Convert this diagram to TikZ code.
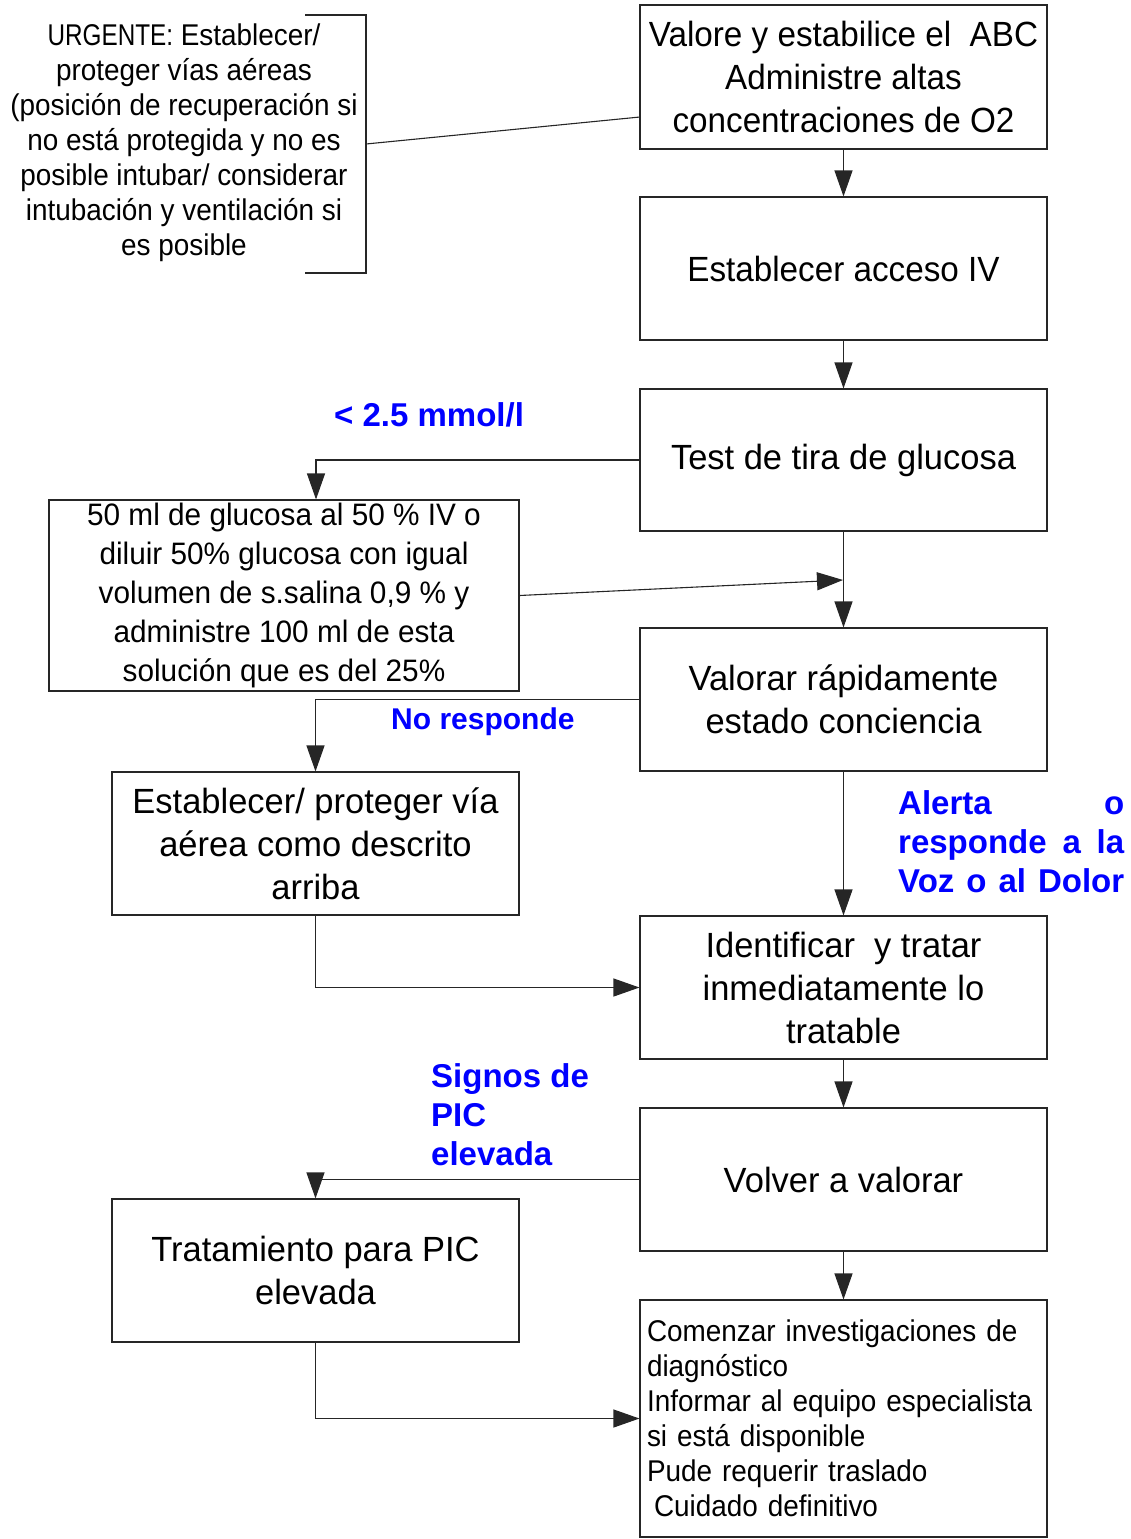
\documentclass[tikz,border=0pt]{standalone}
\usepackage{fontspec}
\usepackage{graphicx}
\setmainfont{Liberation Sans}
\newfontfamily\bodyf[FakeStretch=0.985]{Liberation Sans}
\newfontfamily\narrowf[FakeStretch=0.95]{Liberation Sans}
\newfontfamily\smallf[FakeStretch=0.93]{Liberation Sans}
\newfontfamily\glucf[FakeStretch=0.96]{Liberation Sans}
\usetikzlibrary{arrows.meta}

\begin{document}
\begin{tikzpicture}[x=1pt,y=-1pt,
  box/.style={draw=black!85,line width=1.1pt,rectangle,inner sep=0pt,
    minimum width=407pt,minimum height=143pt,align=center,
    font=\bodyf\fontsize{35}{43}\selectfont},
  narrowbox/.style={box,font=\narrowf\fontsize{35}{43}\selectfont},
  link/.style={draw=black!85,line width=1.1pt},
  arr/.style={link,-{Triangle[length=26pt,width=18pt]}},
  lab/.style={text=blue,font=\bfseries\fontsize{33}{39}\selectfont,
    inner sep=0pt,anchor=west,align=left}
]
\useasboundingbox (0,0) rectangle (1131,1539);

% main column
\node[narrowbox,minimum height=144pt] (abc) at (843.5,77)
  {Valore y estabilice el\ \ ABC\\Administre altas\\concentraciones de O2};
\node[narrowbox] (iv) at (843.5,268.5) {Establecer acceso IV};
\node[box,minimum height=142pt] (tira) at (843.5,460) {Test de tira de glucosa};
\node[box] (conc) at (843.5,699.5) {Valorar rápidamente\\estado conciencia};
\node[box] (trat) at (843.5,987.5)
  {Identificar\ \ y tratar\\inmediatamente lo\\tratable};
\node[box] (revalor) at (843.5,1179.5) {Volver a valorar};
\node[box,minimum height=237pt,text width=393pt,inner xsep=7pt,align=left,
  font=\smallf\fontsize{30}{35}\selectfont] (diag) at (843.5,1418.5)
  {Comenzar investigaciones de\\diagnóstico\\Informar al equipo especialista\\
   si está disponible\\Pude requerir traslado\\\hspace*{7pt}Cuidado definitivo};

% side column
\node[box,minimum width=470pt,minimum height=191pt,
  font=\glucf\fontsize{31}{39}\selectfont] (gluc) at (284,595.5)
  {50 ml de glucosa al 50 \% IV o\\diluir 50\% glucosa con igual\\
   volumen de s.salina 0,9 \% y\\administre 100 ml de esta\\solución que es del 25\%};
\node[box] (via) at (315.5,843.5) {Establecer/ proteger vía\\aérea como descrito\\arriba};
\node[box] (pic) at (315.5,1270.5) {Tratamiento para PIC\\elevada};

% urgent note with its bracket
\node[inner sep=0pt,align=center,font=\smallf\fontsize{30}{35}\selectfont] (urg) at (184,143)
  {\scalebox{0.87}[1]{URGENTE:} Establecer/\\proteger vías aéreas\\(posición de recuperación si\\
   no está protegida y no es\\posible intubar/ considerar\\intubación y ventilación si\\es posible};
\coordinate (brA) at (305,15);
\coordinate (brB) at (366,15);
\coordinate (brC) at (366,273);
\coordinate (brD) at (305,273);
\coordinate (brM) at (366,144);
\coordinate (abcIn) at (640,117);
\draw[link] (brA) -- (brB) -- (brC) -- (brD);
\draw[link] (brM) -- (abcIn);

% connectors
\coordinate (merge) at (843,580);
\draw[arr] (abc) -- (iv);
\draw[arr] (iv) -- (tira);
\draw[arr] (tira) -- (conc);
\draw[arr] (gluc.east) -- (merge);
\draw[arr] (tira.west) -| ([xshift=32pt]gluc.north);
\draw[arr] (conc.west) -| (via.north);
\draw[arr] (conc) -- (trat);
\draw[arr] (via.south) |- (trat.west);
\draw[arr] (trat) -- (revalor);
\draw[arr] (revalor.west) -| (pic.north);
\draw[arr] (revalor) -- (diag);
\draw[arr] (pic.south) |- (diag.west);

% branch labels
\node[lab] (lowgluc) at (334,415) {< 2.5 mmol/l};
\node[lab,font=\bfseries\fontsize{30}{36}\selectfont] (nores) at (391,722) {No responde};
\node[lab] (alerta) at (898,842)
  {\parbox{226pt}{Alerta\hfill o\\responde\hfill a\hfill la\\Voz\hfill o\hfill al\hfill Dolor}};
\node[lab] (signos) at (431,1115) {Signos de\\PIC\\elevada};
\end{tikzpicture}
\end{document}
